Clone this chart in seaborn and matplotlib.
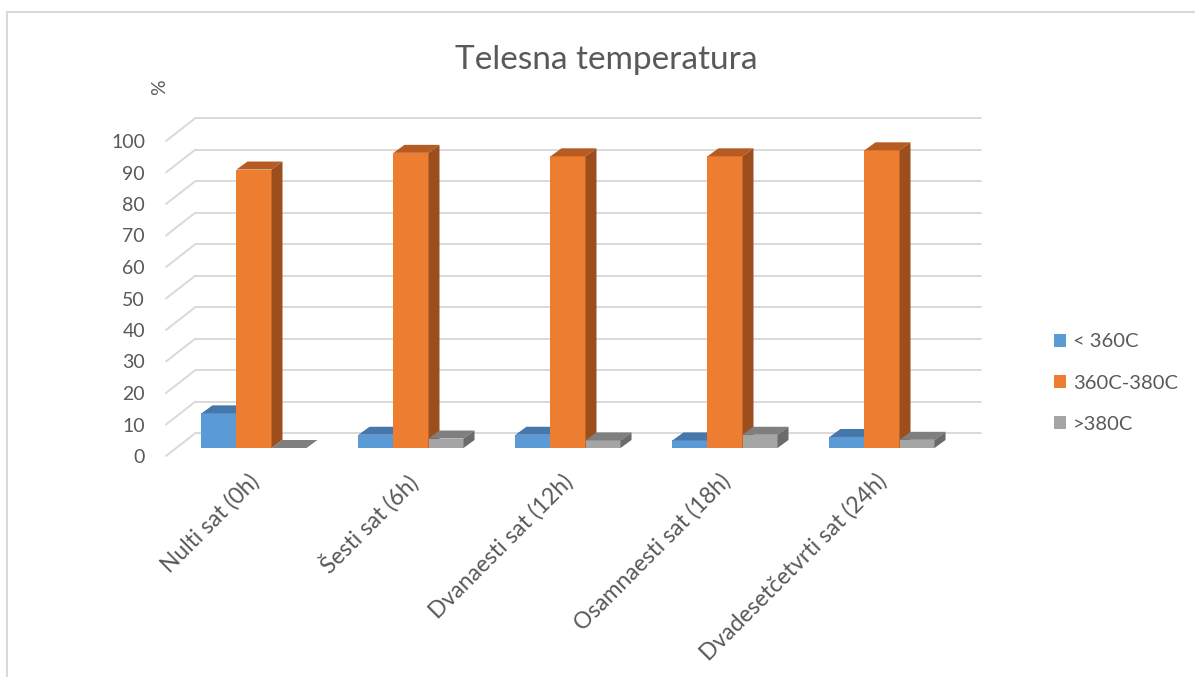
import matplotlib
matplotlib.use("Agg")
import matplotlib.pyplot as plt
import seaborn as sns
import pandas as pd
import numpy as np
from matplotlib.patches import Polygon
from matplotlib.lines import Line2D
from matplotlib.transforms import ScaledTranslation

# ---- data -------------------------------------------------------------
categories = ["Nulti sat (0h)", "Šesti sat (6h)", "Dvanaesti sat (12h)",
              "Osamnaesti sat (18h)", "Dvadesetčetvrti sat (24h)"]
series_names = ["< 360C", "360C-380C", ">380C"]
below_36 = [11.0, 4.2, 4.2, 2.4, 3.5]
between_36_38 = [88.4, 93.7, 92.6, 92.6, 94.5]
above_38 = [0.0, 3.0, 2.4, 4.2, 2.6]
y_ticks = list(range(0, 101, 10))

# ---- style ------------------------------------------------------------
front_colors = ["#5B9BD5", "#ED7D31", "#A5A5A5"]
top_colors = ["#4677AB", "#B65B22", "#7F7F7F"]
side_colors = ["#3E6A98", "#9C4F1D", "#6B6B6B"]
text_color = "#595959"
grid_color = "#D9D9D9"

W, H, DPI = 1195, 677, 100
sns.set_theme(style="white")
plt.rcParams["font.family"] = ["Lato", "DejaVu Sans"]

fig = plt.figure(figsize=(W / DPI, H / DPI), dpi=DPI)
ax = fig.add_axes([175.5 / W, (H - 448) / H, 785 / W, 315 / H])

df = pd.DataFrame({
    "sat": categories * 3,
    "temp": [s for s in series_names for _ in categories],
    "pct": below_36 + between_36_38 + above_38,
})
sns.barplot(data=df, x="sat", y="pct", hue="temp", hue_order=series_names,
            order=categories, palette=front_colors, width=0.669, gap=0,
            saturation=1, linewidth=0, ax=ax, legend=True)

ax.set_xlim(-0.5, 4.5)
ax.set_ylim(0, 100)
ax.set_xlabel("")
ax.set_ylabel("")
ax.set_yticks([])
sns.despine(ax=ax, left=True, bottom=True)
ax.set_facecolor("none")


def px(dx, dy):
    """Convert a pixel offset into data units of the axes."""
    o = ax.transData.transform((0, 0))
    p = ax.transData.inverted().transform(o + np.array([dx, dy]))
    return p[0], p[1]


# depth offsets: bar depth, back wall, front edge of the floor
ddx, ddy = px(11, 8)
bx, by = px(20, 15)
fx, fy = px(-9.5, -8)
lx, _ = px(-30.5, 0)

# wall grid: back wall lines plus the slanted side-wall lines
for v in y_ticks:
    ax.add_line(Line2D([-0.5 + bx, 4.5 + bx], [v + by, v + by], color=grid_color,
                       lw=1.4, zorder=1, clip_on=False))
    ax.add_line(Line2D([-0.5 + fx, -0.5 + bx], [v + fy, v + by], color=grid_color,
                       lw=1.4, zorder=1, clip_on=False))
    ax.text(-0.5 + lx, v + fy, str(v), ha="right", va="center_baseline",
            fontsize=14, color=text_color, clip_on=False)

# extruded top and side faces for every bar
for j, cont in enumerate(ax.containers):
    for rect in cont.patches:
        x0, w, h = rect.get_x(), rect.get_width(), rect.get_height()
        z = 3 + j * 0.1
        rect.set_zorder(z)
        rect.set_clip_on(False)
        top = Polygon([(x0, h), (x0 + w, h), (x0 + w + ddx, h + ddy), (x0 + ddx, h + ddy)],
                      closed=True, fc=top_colors[j], ec="none", zorder=z + 0.01, clip_on=False)
        side = Polygon([(x0 + w, 0), (x0 + w + ddx, ddy), (x0 + w + ddx, h + ddy), (x0 + w, h)],
                       closed=True, fc=side_colors[j], ec="none", zorder=z + 0.02, clip_on=False)
        ax.add_patch(top)
        ax.add_patch(side)

# category labels
ax.set_xticks(range(len(categories)))
ax.set_xticklabels(categories, rotation=45, ha="right", va="top",
                   rotation_mode="anchor", fontsize=16.5, color=text_color)
ax.tick_params(axis="x", length=0, pad=16)
shift = ScaledTranslation(-6 / DPI, 0, fig.dpi_scale_trans)
for lbl in ax.get_xticklabels():
    lbl.set_transform(lbl.get_transform() + shift)

# legend
handles, labels = ax.get_legend_handles_labels()
ax.legend(handles, labels, loc="center left", bbox_to_anchor=(1054 / W, 1 - 383 / H),
          bbox_transform=fig.transFigure, frameon=False, fontsize=14.5,
          handlelength=0.6, handleheight=0.6, handletextpad=0.35,
          labelspacing=1.2, borderpad=0, borderaxespad=0, labelcolor=text_color)

# title and unit label
fig.text(606 / W, 1 - 60 / H, "Telesna temperatura", ha="center", va="center",
         fontsize=24, color=text_color)
fig.text(160 / W, 1 - 87 / H, "%", rotation=90, ha="center", va="center",
         fontsize=14, color=text_color)

# chart frame
fig.add_artist(Line2D([7 / W, 7 / W], [0, 1 - 12 / H], transform=fig.transFigure,
                      color=grid_color, lw=1.5))
fig.add_artist(Line2D([7 / W, 1], [1 - 12 / H, 1 - 12 / H], transform=fig.transFigure,
                      color=grid_color, lw=1.5))

fig.savefig("out.png", dpi=DPI)
